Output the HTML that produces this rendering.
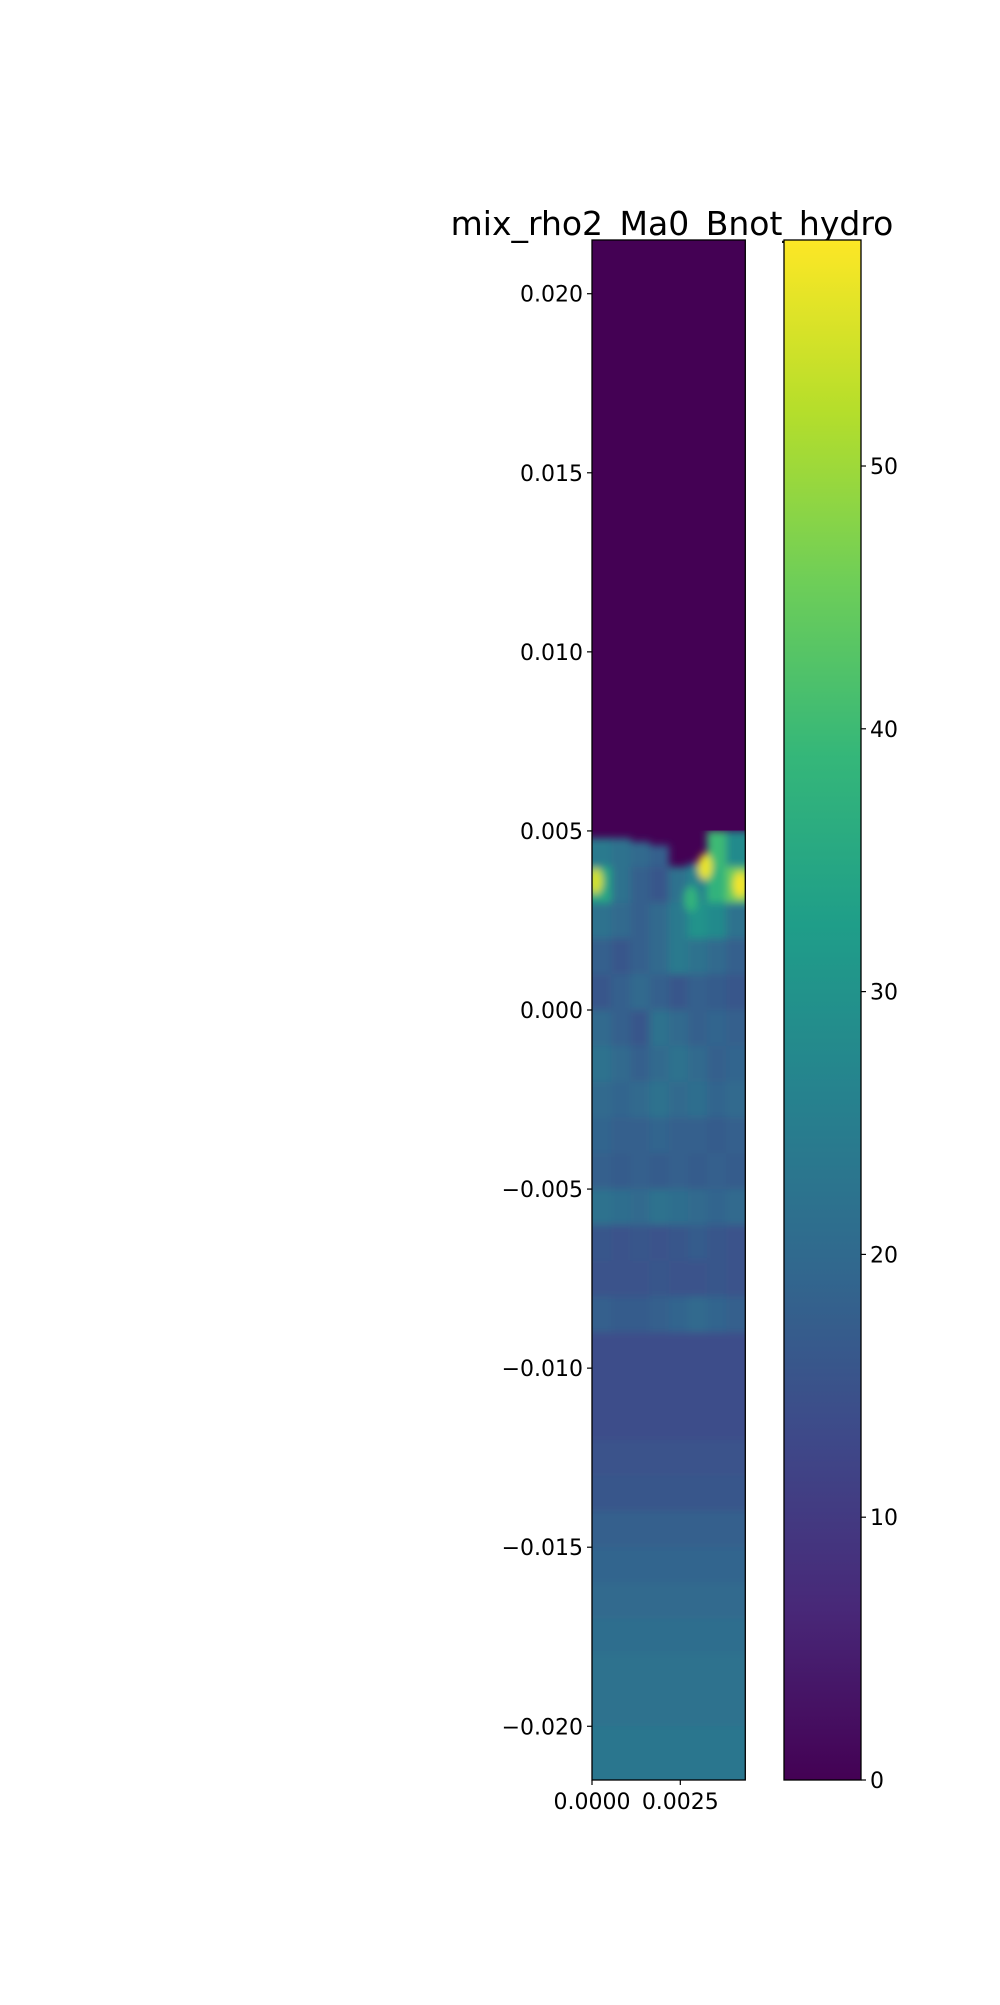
<!DOCTYPE html>
<html><head><meta charset="utf-8"><style>
body{margin:0;background:#fff}
svg text{font-family:"DejaVu Sans","Liberation Sans",sans-serif;fill:#000}
</style></head><body>
<svg id="fig" width="1000" height="2000" viewBox="0 0 1000 2000" xmlns="http://www.w3.org/2000/svg">
<defs>
<filter id="soft" x="0" y="0" width="1" height="1"><feGaussianBlur stdDeviation="4"/></filter>
<clipPath id="plotclip"><rect x="592" y="240" width="153.3" height="1540"/></clipPath>
<linearGradient id="cbgrad" x1="0" y1="1" x2="0" y2="0"></linearGradient>
</defs>
<text x="672" y="235" font-size="33" text-anchor="middle">mix_rho2_Ma0_Bnot_hydro</text>
<g id="heat" clip-path="url(#plotclip)"></g>
<rect x="592" y="240" width="153.3" height="1540" fill="none" stroke="#000" stroke-width="1.3"/>
<g id="axes"></g>
<rect x="784" y="240" width="77" height="1540" fill="url(#cbgrad)" stroke="#000" stroke-width="1.3"/>
</svg>
<script>
const xTicks=[0,0.0025];
const xTickLabels=["0.0000","0.0025"];
const yTicks=[0.02,0.015,0.01,0.005,0,-0.005,-0.01,-0.015,-0.02];
const yTickLabels=["0.020","0.015","0.010","0.005","0.000","\u22120.005","\u22120.010","\u22120.015","\u22120.020"];
const cbTicks=[0,10,20,30,40,50];
const vmax=58.6;
const xMax=0.00434, yMin=-0.0215, yMaxV=0.0215;
const nCols=8;
const interfaceTop=[0.0048,0.0048,0.0047,0.0046,0.0040,0.0041,0.0053,0.0051];
const rowTops=[0.005,0.004,0.003,0.002,0.001,0,-0.001,-0.002,-0.003,-0.004,-0.005,-0.006,-0.007,-0.008,-0.009,-0.01,-0.011,-0.012,-0.013,-0.014,-0.015,-0.016,-0.017,-0.018,-0.019,-0.02,-0.021];
const grid=[
[24,22,20,18,18,20,40,28],
[35,22,18,16,22,26,38,45],
[22,20,18,20,24,30,28,22],
[18,16,18,20,24,22,20,18],
[16,18,20,18,16,18,17,16],
[20,18,16,22,20,18,19,18],
[22,20,18,20,22,20,18,19],
[20,19,20,22,20,21,19,20],
[19,18,18,19,18,18,17,18],
[18,17,18,17,18,17,18,17],
[22,21,20,22,21,20,19,20],
[16,15,16,15,16,17,16,15],
[15,15,15,16,15,15,16,15],
[18,17,17,18,19,20,19,18],
[14,14,14,14,14,14,14,14],
[14,14,14,14,14,14,14,14],
[14,14,14,14,14,14,14,14],
[15,15,15,15,15,15,15,15],
[16,16,16,16,16,16,16,16],
[18,18,18,18,18,18,18,18],
[19,19,19,19,19,19,19,19],
[20,20,20,20,20,20,20,20],
[21,21,21,21,21,21,21,21],
[22,22,22,22,22,22,22,22],
[22,22,22,22,22,22,22,22],
[23,23,23,23,23,23,23,23],
[23,23,23,23,23,23,23,23]];
const hotX=[0.0001,0.0032,0.0042,0.0028];
const hotY=[0.0036,0.0040,0.0035,0.0031];
const hotV=[55,57,58,38];

const sx=v=>592+v/xMax*153.3;
const sy=v=>240+(yMaxV-v)/(yMaxV-yMin)*1540;
const cy=v=>1780-v/vmax*1540;
const vir=["#440154","#482878","#3e4989","#31688e","#26828e","#1f9e89","#35b779","#6ece58","#b5de2b","#fde725"];
function hex(h){return [1,3,5].map(i=>parseInt(h.substr(i,2),16));}
function color(v){let t=Math.max(0,Math.min(1,v/vmax))*(vir.length-1);let i=Math.min(Math.floor(t),vir.length-2),f=t-i;
const a=hex(vir[i]),b=hex(vir[i+1]);return "rgb("+a.map((c,k)=>Math.round(c+(b[k]-c)*f)).join(",")+")";}
const NS="http://www.w3.org/2000/svg";
function mk(tag,at,parent){const e=document.createElementNS(NS,tag);for(const k in at)e.setAttribute(k,at[k]);parent.appendChild(e);return e;}
const heat=document.getElementById('heat');
const bg=mk('rect',{x:592,y:240,width:153.3,height:1540,fill:color(0)},heat);


const g=mk('g',{filter:'url(#soft)'},heat);
const cw=xMax/nCols;
rowTops.forEach((yt,r)=>{
  const yb=r+1<rowTops.length?rowTops[r+1]:yMin-0.001;
  for(let c=0;c<nCols;c++){
    const top=Math.min(yt,interfaceTop[c]);
    if(top<=yb)continue;
    const x0=c===0?-0.0003:c*cw, x1=c===nCols-1?xMax+0.0003:(c+1)*cw;
    const e=mk('rect',{x:sx(x0),y:sy(top),width:sx(x1)-sx(x0)+0.5,height:sy(yb)-sy(top)+0.5,fill:color(grid[r][c])},g);
    
    
  }
});
hotX.forEach((x,i)=>{
  const e=mk('ellipse',{cx:sx(x),cy:sy(hotY[i]),rx:7,ry:13,fill:color(hotV[i])},g);
  
  
});
const axes=document.getElementById('axes');
yTicks.forEach((v,i)=>{
  const l=mk('line',{x1:587,x2:592,y1:sy(v),y2:sy(v),stroke:'#000','stroke-width':1.2},axes);
  
  
  const t=mk('text',{x:583,y:sy(v)+8,'font-size':22,'text-anchor':'end'},axes);t.textContent=yTickLabels[i];
  
  
});
xTicks.forEach((v,i)=>{
  const l=mk('line',{x1:sx(v),x2:sx(v),y1:1780,y2:1785,stroke:'#000','stroke-width':1.2},axes);
  
  
  const t=mk('text',{x:sx(v),y:1809,'font-size':22,'text-anchor':'middle'},axes);t.textContent=xTickLabels[i];
  
  
});
cbTicks.forEach(v=>{
  const l=mk('line',{x1:861,x2:866,y1:cy(v),y2:cy(v),stroke:'#000','stroke-width':1.2},axes);
  
  
  const t=mk('text',{x:870,y:cy(v)+8,'font-size':22},axes);t.textContent=String(v);
  
  
});
const grad=document.getElementById('cbgrad');
vir.forEach((c,i)=>mk('stop',{offset:(i/(vir.length-1)*100)+'%','stop-color':c},grad));
</script>
</body></html>
